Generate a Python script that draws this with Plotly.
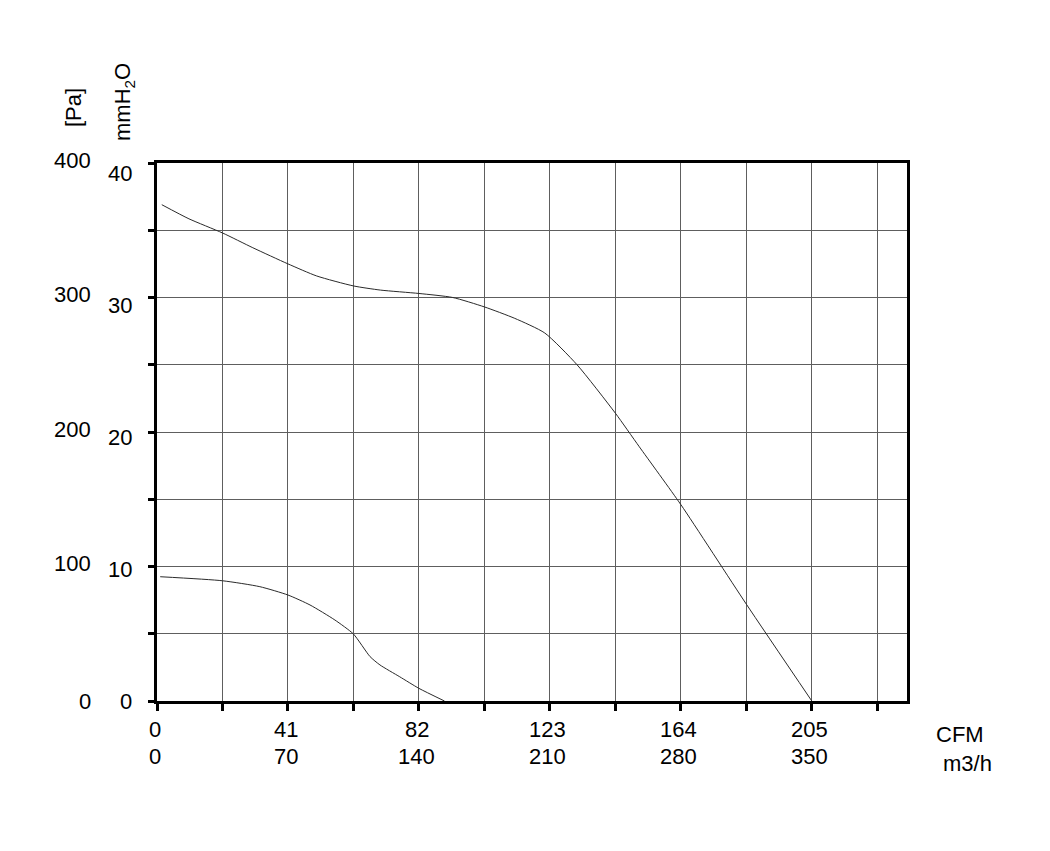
import plotly.graph_objects as go

# Data (CFM vs static pressure in Pa)
upper_cfm = [1.5, 10, 20.5, 30, 41, 50, 61.5, 70, 82, 92.6, 102.5, 112, 121.4, 131.5, 143.5, 151, 164, 184.5, 205]
upper_pa = [369, 358.5, 348, 337, 325, 316, 308.6, 305.5, 303, 300, 293, 284.5, 273.6, 250, 214, 189, 146, 72, 0]

lower_cfm = [1, 20.5, 32.2, 41, 47.9, 55.7, 61.5, 66.7, 69.8, 76, 82, 90]
lower_pa = [92.4, 89.4, 85, 78.8, 71.4, 60.2, 49.8, 33, 26.8, 18, 9.4, 0]

# Axis tick labels
cfm_ticks = [0, 41, 82, 123, 164, 205]
m3h_ticks = [0, 70, 140, 210, 280, 350]
pa_ticks = [0, 100, 200, 300, 400]
mm_ticks = [0, 10, 20, 30, 40]
PA_PER_MM = 9.80665

x_grid = [20.5 * k for k in range(12)]
y_grid = [50 * k for k in range(9)]

FONT = "Liberation Sans, Arial, sans-serif"
FS = 22

fig = go.Figure()
for xs, ys in [(upper_cfm, upper_pa), (lower_cfm, lower_pa)]:
    fig.add_trace(go.Scatter(x=xs, y=ys, mode="lines",
                             line=dict(color="#2a2a2a", width=1, shape="spline", smoothing=0.6),
                             showlegend=False, hoverinfo="skip"))

ann = []
for v in pa_ticks:
    ann.append(dict(x=0, y=v, xref="x", yref="y", text=str(v), showarrow=False,
                    xanchor="right", yanchor="middle", xshift=-64, yshift=3 if v else 0,
                    font=dict(size=FS, family=FONT, color="black")))
for v in mm_ticks:
    ann.append(dict(x=0, y=v * PA_PER_MM, xref="x", yref="y", text=str(v), showarrow=False,
                    xanchor="right", yanchor="middle", xshift=-23,
                    font=dict(size=FS, family=FONT, color="black")))
for c, m in zip(cfm_ticks, m3h_ticks):
    ann.append(dict(x=c, y=0, xref="x", yref="y", text=str(c), showarrow=False,
                    xanchor="center", yanchor="middle", xshift=-2, yshift=-28,
                    font=dict(size=FS, family=FONT, color="black")))
    ann.append(dict(x=c, y=0, xref="x", yref="y", text=str(m), showarrow=False,
                    xanchor="center", yanchor="middle", xshift=-2, yshift=-55,
                    font=dict(size=FS, family=FONT, color="black")))

# page has an 8px body margin; compensate so the plot area sits at 157..907 x 163..701
OFF = 8
W, H = 1050 - OFF, 851 - OFF
L, R, T, B = 157 - OFF, 143, 163 - OFF, 150
pw, ph = W - L - R, H - T - B


def px(xp):
    return (xp - OFF - L) / pw


def py(yp):
    return (H - B - (yp - OFF)) / ph


ann += [
    dict(x=px(960), y=py(734), xref="paper", yref="paper", text="CFM", showarrow=False,
         xanchor="center", yanchor="middle", font=dict(size=FS, family=FONT, color="black")),
    dict(x=px(967), y=py(763), xref="paper", yref="paper", text="m3/h", showarrow=False,
         xanchor="center", yanchor="middle", font=dict(size=FS, family=FONT, color="black")),
    dict(x=px(73), y=py(108), xref="paper", yref="paper", text="[Pa]", showarrow=False,
         textangle=-90, xanchor="center", yanchor="middle", font=dict(size=FS, family=FONT, color="black")),
    dict(x=px(124), y=py(102), xref="paper", yref="paper", text="mmH<sub>2</sub>O", showarrow=False,
         textangle=-90, xanchor="center", yanchor="middle", font=dict(size=FS, family=FONT, color="black")),
]

fig.update_layout(
    width=W, height=H,
    margin=dict(l=L, r=R, t=T, b=B, pad=0),
    paper_bgcolor="white", plot_bgcolor="white",
    annotations=ann,
    xaxis=dict(range=[0, 234.8], tickmode="array", tickvals=x_grid, showticklabels=False,
               ticks="outside", ticklen=7, tickwidth=3, tickcolor="black",
               showgrid=True, gridcolor="#5e5e5e", gridwidth=1, zeroline=False,
               showline=True, linecolor="black", linewidth=3, mirror=True, fixedrange=True),
    yaxis=dict(range=[0, 400], tickmode="array", tickvals=y_grid, showticklabels=False,
               ticks="outside", ticklen=6, tickwidth=3, tickcolor="black",
               showgrid=True, gridcolor="#5e5e5e", gridwidth=1, zeroline=False,
               showline=True, linecolor="black", linewidth=3, mirror=True, fixedrange=True),
)

fig.write_html("out.html")
